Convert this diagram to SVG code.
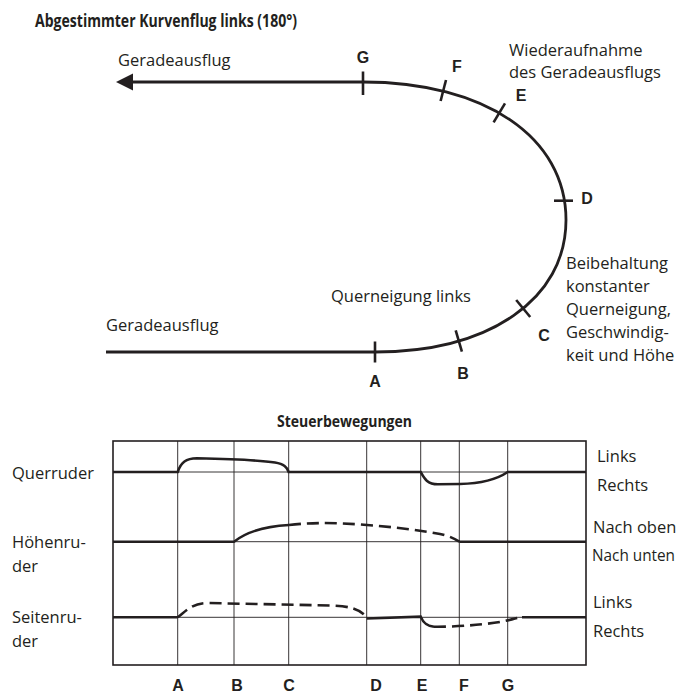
<svg xmlns="http://www.w3.org/2000/svg" width="680" height="693" viewBox="0 0 680 693">
<style>
.t{font-family:"Open Sans","Noto Sans","Liberation Sans",sans-serif;font-size:16.5px;fill:#231f20}
.b{font-family:"Open Sans","Noto Sans","Liberation Sans",sans-serif;font-weight:bold;fill:#231f20}
.l{font-family:"Liberation Sans",Arial,sans-serif;font-size:16px;font-weight:bold;fill:#231f20;text-anchor:middle}
.fp{fill:none;stroke:#231f20;stroke-width:2.8}
.tk{stroke:#231f20;stroke-width:2.6;fill:none}
.grid{stroke:#231f20;stroke-width:0.9;fill:none}
.box{stroke:#231f20;stroke-width:1.6;fill:none}
.tr{stroke:#231f20;stroke-width:2.6;fill:none}
.dash{stroke-dasharray:12 6}
</style>
<rect width="680" height="693" fill="#fff"/>
<text class="b" x="35" y="27" font-size="17.5" textLength="262" lengthAdjust="spacingAndGlyphs">Abgestimmter Kurvenflug links (180°)</text>

<g id="connectors">
<path class="fp" d="M106 352 H375 C489.6 352 566 299.2 566 220 C566 137.2 484.8 82 363 82 H130"/>
<polygon points="116,82 133,73.5 133,90.5" fill="#231f20"/>
</g>

<g id="label-straight-out"><text class="t" x="118" y="66">Geradeausflug</text></g>
<g id="label-straight-in"><text class="t" x="106" y="331">Geradeausflug</text></g>
<g id="label-resume"><text class="t" x="509" y="56">Wiederaufnahme</text><text class="t" x="509" y="78">des Geradeausflugs</text></g>
<g id="label-bank"><text class="t" x="331" y="302">Querneigung links</text></g>
<g id="label-maintain">
<text class="t" x="566" y="269">Beibehaltung</text>
<text class="t" x="566" y="292">konstanter</text>
<text class="t" x="566" y="315">Querneigung,</text>
<text class="t" x="566" y="338">Geschwindig-</text>
<text class="t" x="566" y="361">keit und Höhe</text>
</g>

<g id="point-A"><line class="tk" x1="375" y1="341.5" x2="375" y2="362.5"/><text class="l" x="375" y="387">A</text></g>
<g id="point-B"><line class="tk" x1="455.7" y1="330.4" x2="461.9" y2="351.6"/><text class="l" x="463" y="379">B</text></g>
<g id="point-C"><line class="tk" x1="516.2" y1="300" x2="530.2" y2="317"/><text class="l" x="544" y="341">C</text></g>
<g id="point-D"><line class="tk" x1="554" y1="200.7" x2="573" y2="200.7"/><text class="l" x="587" y="204">D</text></g>
<g id="point-E"><line class="tk" x1="505" y1="103.4" x2="493.6" y2="122.4"/><text class="l" x="521" y="101">E</text></g>
<g id="point-F"><line class="tk" x1="446" y1="80" x2="440.6" y2="101"/><text class="l" x="457" y="72">F</text></g>
<g id="point-G"><line class="tk" x1="363" y1="71.5" x2="363" y2="95"/><text class="l" x="363" y="63">G</text></g>

<g id="chart">
<text class="b" x="277" y="427" font-size="16.5" textLength="135" lengthAdjust="spacingAndGlyphs">Steuerbewegungen</text>
<g id="grid">
<line class="grid" x1="113" y1="472" x2="586" y2="472"/>
<line class="grid" x1="113" y1="541.7" x2="586" y2="541.7"/>
<line class="grid" x1="113" y1="617.3" x2="586" y2="617.3"/>
<line class="grid" x1="177.7" y1="441" x2="177.7" y2="665"/>
<line class="grid" x1="234" y1="441" x2="234" y2="665"/>
<line class="grid" x1="288.7" y1="441" x2="288.7" y2="665"/>
<line class="grid" x1="366.7" y1="441" x2="366.7" y2="665"/>
<line class="grid" x1="420.7" y1="441" x2="420.7" y2="665"/>
<line class="grid" x1="459.3" y1="441" x2="459.3" y2="665"/>
<line class="grid" x1="507.7" y1="441" x2="507.7" y2="665"/>
<rect class="box" x="113" y="441" width="473" height="224"/>
</g>
<g id="trace-aileron">
<path class="tr" d="M113 472 H177.7 C181 462 186 458.5 197 458.3 C230 459 258 460 275 462.5 C284 464 287 467 288.7 472 H420.7 C424 478 427 484.3 438 484.3 L460 484 C480 483.5 496 480 507.7 472 H586"/>
</g>
<g id="trace-elevator">
<path class="tr" d="M113 541.7 H234 C245 533 262 526.5 289 525"/>
<path class="tr dash" d="M289 525 C310 522.5 330 522.5 360 524.5 C390 526.5 418 530 440 534 C450 536 455 539 459.3 541.7"/>
<path class="tr" d="M459.3 541.7 H586"/>
</g>
<g id="trace-rudder">
<path class="tr" d="M113 617.3 H177.7"/>
<path class="tr dash" d="M177.7 617.3 C186 611 192 603.5 206 603 L330 605.5 C350 606 360 609 366.7 617.5"/>
<path class="tr" d="M366.7 618.5 L420.7 616.7 C423 622 426 626 434 626.7"/>
<path class="tr dash" d="M434 626.7 C460 627 490 624 505 621 C512 619.5 516 618 522 617.3"/>
<path class="tr" d="M522 617.3 H586"/>
</g>
<g id="row-labels">
<text class="t" x="12" y="479">Querruder</text>
<text class="t" x="12" y="548">Höhenru-</text>
<text class="t" x="12" y="572">der</text>
<text class="t" x="12" y="623">Seitenru-</text>
<text class="t" x="12" y="647">der</text>
</g>
<g id="side-labels">
<text class="t" x="597" y="462">Links</text>
<text class="t" x="597" y="491">Rechts</text>
<text class="t" x="593" y="533">Nach oben</text>
<text class="t" x="592" y="561" textLength="83" lengthAdjust="spacingAndGlyphs">Nach unten</text>
<text class="t" x="593" y="608">Links</text>
<text class="t" x="593" y="637">Rechts</text>
</g>
<g id="axis-labels">
<text class="l" x="178" y="691">A</text>
<text class="l" x="237" y="691">B</text>
<text class="l" x="289" y="691">C</text>
<text class="l" x="376" y="691">D</text>
<text class="l" x="422" y="691">E</text>
<text class="l" x="464" y="691">F</text>
<text class="l" x="508" y="691">G</text>
</g>
</g>
</svg>
